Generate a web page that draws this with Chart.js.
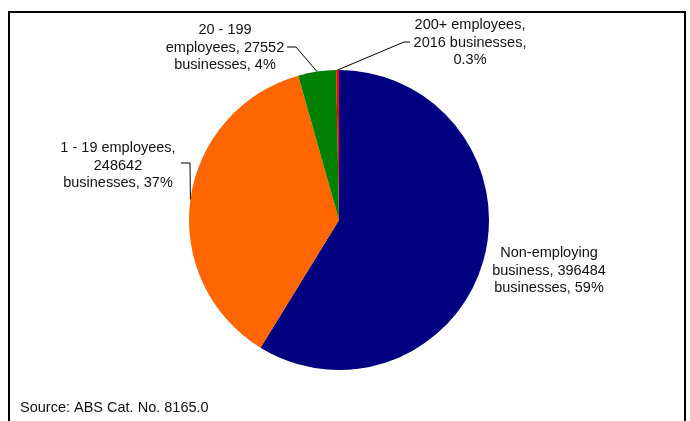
<!DOCTYPE html>
<html>
<head>
<meta charset="utf-8">
<script src="https://cdn.jsdelivr.net/npm/chart.js@4/dist/chart.umd.min.js"></script>
<style>
  html, body { margin: 0; padding: 0; background: #fff; }
  #wrap { width: 690px; height: 421px; }
</style>
</head>
<body>
<div id="wrap"><canvas id="bizChart" width="690" height="421"></canvas></div>
<script>
// Businesses by employment size
var categories = ["Non-employing business", "1 - 19 employees", "20 - 199 employees", "200+ employees"];
var businesses = [396484, 248642, 27552, 2016];
var shares = ["59%", "37%", "4%", "0.3%"];
var colours = ["#000080", "#FF6600", "#008000", "#FF0000"];

// label text as it is split over lines
var labelLines = [
  ["Non-employing", "business, " + businesses[0], "businesses, " + shares[0]],
  ["1 - 19 employees,", String(businesses[1]), "businesses, " + shares[1]],
  ["20 - 199", "employees, " + businesses[2], "businesses, " + shares[2]],
  ["200+ employees,", businesses[3] + " businesses,", shares[3]]
];

// where each label block sits (centre x, first line y) and where its leader starts
var labelSpots = [
  { x: 549, y: 253, leader: null },
  { x: 118, y: 148, leader: { x: 181, y: 163, elbow: { x: 190, y: 163 } } },
  { x: 225, y: 30, leader: { x: 287, y: 47, elbow: { x: 296, y: 47 } } },
  { x: 470, y: 25, leader: { x: 410, y: 42, elbow: { x: 404, y: 42 } } }
];

var FONT = "14.5px 'Liberation Sans', Arial, sans-serif";

var labelPlugin = {
  id: "sliceLabels",
  afterDraw: function(chart) {
    var ctx = chart.ctx;
    var arcs = chart.getDatasetMeta(0).data;
    ctx.save();

    // outer frame
    ctx.fillStyle = "#000";
    ctx.fillRect(8, 11, 678, 2);
    ctx.fillRect(8, 11, 2, 410);
    ctx.fillRect(684, 11, 2, 410);

    ctx.font = FONT;
    ctx.fillStyle = "#111";
    ctx.textAlign = "center";
    ctx.textBaseline = "middle";
    labelLines.forEach(function(lines, i) {
      var spot = labelSpots[i];
      lines.forEach(function(t, k) {
        ctx.fillText(t, spot.x, spot.y + k * 17.5);
      });
      if (spot.leader) {
        var a = arcs[i].getProps(["x", "y", "startAngle", "endAngle", "outerRadius"], true);
        var mid = (a.startAngle + a.endAngle) / 2;
        var ex = a.x + Math.cos(mid) * a.outerRadius;
        var ey = a.y + Math.sin(mid) * a.outerRadius;
        ctx.strokeStyle = "#000";
        ctx.lineWidth = 1;
        ctx.beginPath();
        ctx.moveTo(spot.leader.x, spot.leader.y);
        ctx.lineTo(spot.leader.elbow.x, spot.leader.elbow.y);
        ctx.lineTo(ex, ey);
        ctx.stroke();
      }
    });

    ctx.textAlign = "left";
    ctx.fillText("Source: ABS Cat. No. 8165.0", 20, 408);
    ctx.restore();
  }
};

var ctx = document.getElementById("bizChart").getContext("2d");
var bizChart = new Chart(ctx, {
  type: "pie",
  data: {
    labels: categories,
    datasets: [{
      data: businesses,
      backgroundColor: colours,
      borderWidth: 0
    }]
  },
  options: {
    responsive: false,
    animation: false,
    layout: { padding: { top: 70, bottom: 51, left: 189, right: 201 } },
    plugins: {
      legend: { display: false },
      tooltip: { enabled: false }
    }
  },
  plugins: [labelPlugin]
});
</script>
</body>
</html>
